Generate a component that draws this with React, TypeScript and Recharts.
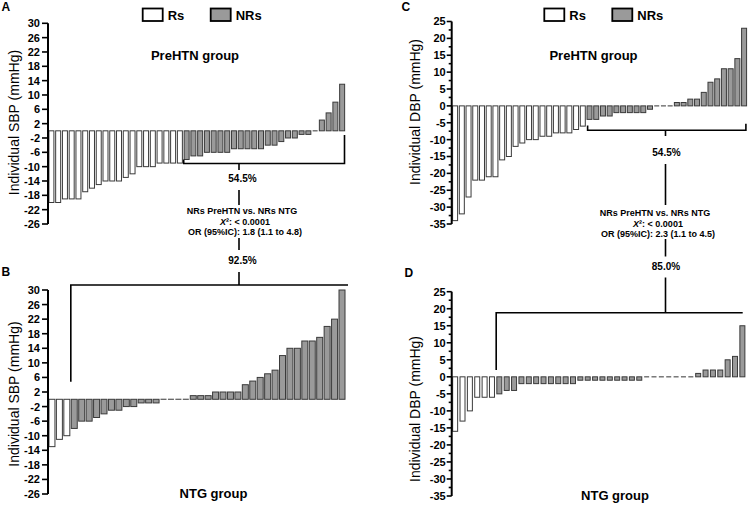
import React from 'react';
import { BarChart, Bar, XAxis, YAxis } from 'recharts';

// ---- Data (mmHg change per individual) ----
const sbpPreRs = [-20, -20, -19, -19, -19, -17, -16, -15, -14, -14, -14, -13, -12, -10, -10, -10, -9, -9, -9, -9];
const sbpPreNRs = [-8, -7, -7, -6, -6, -6, -6, -5, -5, -5, -5, -5, -4, -4, -3, -2, -2, -1, -1, 0, 3, 5, 8, 13];
const sbpNtgRs = [-13, -11, -10];
const sbpNtgNRs = [-8, -6, -6, -5, -4, -3, -3, -2, -2, -1, -1, -1, 0, 0, 0, 0, 1, 1, 1, 2, 2, 2, 2, 4, 5, 6, 7, 8, 12, 14, 14, 16, 16, 17, 20, 22, 30];
const dbpPreRs = [-34, -32, -27, -22, -22, -21, -21, -16, -15, -12, -11, -10, -10, -9, -9, -8, -8, -8, -7, -6];
const dbpPreNRs = [-4, -4, -3, -3, -2, -2, -2, -2, -2, -1, 0, 0, 0, 1, 1, 2, 2, 4, 7, 8, 11, 11, 14, 23];
const dbpNtgRs = [-16, -13, -10, -6, -6, -6];
const dbpNtgNRs = [-5, -4, -4, -2, -2, -2, -2, -2, -2, -2, -2, -1, -1, -1, -1, -1, -1, -1, -1, -1, 0, 0, 0, 0, 0, 0, 0, 1, 2, 2, 2, 5, 6, 15];

const sbpTicks = [30, 26, 22, 18, 14, 10, 6, 2, -2, -6, -10, -14, -18, -22, -26];
const dbpTicks = [25, 22.5, 20, 17.5, 15, 12.5, 10, 7.5, 5, 2.5, 0, -2.5, -5, -7.5, -10, -12.5, -15, -17.5, -20, -22.5, -25, -27.5, -30, -32.5, -35];
const dbpLabelTicks = [25, 20, 15, 10, 5, 0, -5, -10, -15, -20, -25, -30, -35];

const legendLabels = ['Rs', 'NRs'];
const groupTitles = ['PreHTN group', 'NTG group'];
const yLabels = ['Individual SBP (mmHg)', 'Individual DBP (mmHg)'];
const percentA = ['54.5%', '92.5%'];
const percentC = ['54.5%', '85.0%'];
const statsA = ['NRs PreHTN vs. NRs NTG', ': < 0.0001', 'OR (95%IC): 1.8 (1.1 to 4.8)'];
const statsC = ['NRs PreHTN vs. NRs NTG', ': < 0.0001', 'OR (95%IC): 2.3 (1.1 to 4.5)'];

const build = (rs: number[], nrs: number[]) => [
  ...rs.map((v, i) => ({ id: `r${i}`, v, g: 'Rs' })),
  ...nrs.map((v, i) => ({ id: `n${i}`, v, g: 'NRs' })),
];

const FONT = "'Liberation Sans', Arial, Helvetica, sans-serif";
const GRAY = '#9a9a9a';

type Cfg = { left: number; top: number; w: number; h: number; plotL: number; plotR: number; plotT: number; plotB: number; dom: [number, number]; n: number };

const cfgA: Cfg = { left: 0, top: 0, w: 375, h: 240, plotL: 48, plotR: 345.5, plotT: 23.3, plotB: 224, dom: [-26, 30], n: 44 };
const cfgB: Cfg = { left: 0, top: 260, w: 375, h: 245, plotL: 48, plotR: 345.5, plotT: 290, plotB: 494, dom: [-26, 30], n: 40 };
const cfgC: Cfg = { left: 375, top: 0, w: 375, h: 240, plotL: 451.7, plotR: 747.4, plotT: 21.5, plotB: 224, dom: [-35, 25], n: 44 };
const cfgD: Cfg = { left: 375, top: 260, w: 375, h: 245, plotL: 451.7, plotR: 746.3, plotT: 291.7, plotB: 496, dom: [-35, 25], n: 40 };

const ex = (c: Cfg, i: number) => c.plotL + (i * (c.plotR - c.plotL)) / c.n;
const ey = (c: Cfg, v: number) => c.plotT + ((c.dom[1] - v) * (c.plotB - c.plotT)) / (c.dom[1] - c.dom[0]);

const BarShape = (props: any) => {
  const { x, y, width, height } = props;
  const g = props.g ?? (props.payload && props.payload.g);
  if (!height || Math.abs(height) < 0.5) {
    return <line x1={x + 0.5} x2={x + width - 0.5} y1={y} y2={y} stroke="#555" strokeWidth={1.2} />;
  }
  const top = Math.min(y, y + height);
  return (
    <rect x={x + 0.5} y={top} width={Math.max(width - 1, 0.5)} height={Math.abs(height)}
      fill={g === 'Rs' ? '#ffffff' : GRAY} stroke="#3a3a3a" strokeWidth={1} />
  );
};

const makeTick = (labelSet: number[] | null, majorLen: number, minorLen: number, gap: number) => (p: any) => {
  const { x, y, payload } = p;
  const axisX = x + 8;
  const v = payload.value;
  const isMajor = labelSet ? labelSet.includes(v) : true;
  const len = isMajor ? majorLen : minorLen;
  return (
    <g>
      <line x1={axisX - len} x2={axisX} y1={y} y2={y} stroke="#000" strokeWidth={1.6} />
      {isMajor && (
        <text x={axisX - majorLen - gap} y={y} dy="0.36em" textAnchor="end" fontFamily={FONT} fontSize={11} fontWeight="bold" fill="#000">
          {v}
        </text>
      )}
    </g>
  );
};

function Panel({ cfg, data, ticks, labelSet }: { cfg: Cfg; data: any[]; ticks: number[]; labelSet: number[] | null }) {
  const margin = { top: cfg.plotT - cfg.top, bottom: cfg.top + cfg.h - cfg.plotB, right: cfg.left + cfg.w - cfg.plotR, left: 0 };
  return (
    <div style={{ position: 'absolute', left: cfg.left, top: cfg.top }}>
      <BarChart width={cfg.w} height={cfg.h} data={data} margin={margin} barCategoryGap="6%">
        <XAxis dataKey="id" hide />
        <YAxis
          type="number"
          width={cfg.plotL - cfg.left}
          domain={cfg.dom}
          ticks={ticks}
          interval={0}
          allowDecimals
          tickLine={false}
          tickSize={6}
          tickMargin={2}
          axisLine={{ stroke: '#000', strokeWidth: 2 }}
          tick={labelSet ? makeTick(labelSet, 5, 3, 1) : makeTick(null, 6, 6, 2)}
        />
        <Bar dataKey="v" isAnimationActive={false} shape={BarShape} />
      </BarChart>
    </div>
  );
}

const Legend = ({ x }: { x: number }) => (
  <g>
    <rect x={x} y={8.5} width={20} height={12.5} fill="#fff" stroke="#000" strokeWidth={1.8} />
    <text x={x + 25} y={19.5} fontFamily={FONT} fontSize={13} fontWeight="bold">{legendLabels[0]}</text>
    <rect x={x + 68} y={8.5} width={20} height={12.5} fill={GRAY} stroke="#000" strokeWidth={1.8} />
    <text x={x + 93} y={19.5} fontFamily={FONT} fontSize={13} fontWeight="bold">{legendLabels[1]}</text>
  </g>
);

const Stats = ({ cx, y0, lines }: { cx: number; y0: number; lines: string[] }) => (
  <g fontFamily={FONT} fontSize={9} fontWeight="bold" textAnchor="middle">
    <text x={cx} y={y0}>{lines[0]}</text>
    <text x={cx + 3} y={y0 + 10.5}><tspan fontStyle="italic">X</tspan><tspan>²</tspan><tspan>{lines[1]}</tspan></text>
    <text x={cx + 3} y={y0 + 21}>{lines[2]}</text>
  </g>
);

function Overlay() {
  const ln = { stroke: '#000', strokeWidth: 1.6, fill: 'none' } as any;
  const ax = 239;
  const cx = 665.5;
  // bracket geometry derived from the panels' scales
  const aL = ex(cfgA, 20) + 0.5;
  const aR = ex(cfgA, 44) - 1;
  const aY = ey(cfgA, -9.1);
  const bL = ex(cfgB, 3) + 0.5;
  const cL = ex(cfgC, 20) + 1.5;
  const cR = ex(cfgC, 44) - 1.5;
  const cY = ey(cfgC, -7.2);
  const dL = ex(cfgD, 6) + 0.3;
  return (
    <svg width={750} height={505} style={{ position: 'absolute', left: 0, top: 0, pointerEvents: 'none' }}>
      {/* panel letters */}
      <g fontFamily={FONT} fontSize={12} fontWeight="bold">
        <text x={1.5} y={11}>A</text>
        <text x={1.5} y={275.5}>B</text>
        <text x={401.5} y={10.5}>C</text>
        <text x={404.5} y={277}>D</text>
      </g>
      <Legend x={142.7} />
      <Legend x={544.3} />
      {/* group titles */}
      <g fontFamily={FONT} fontSize={13} fontWeight="bold" textAnchor="middle">
        <text x={195} y={60}>{groupTitles[0]}</text>
        <text x={593.5} y={60}>{groupTitles[0]}</text>
        <text x={213.5} y={497.5}>{groupTitles[1]}</text>
        <text x={615} y={499.5}>{groupTitles[1]}</text>
      </g>
      {/* y labels */}
      <g fontFamily={FONT} fontSize={14} textAnchor="middle">
        <text transform="translate(18.5,122.5) rotate(-90)">{yLabels[0]}</text>
        <text transform="translate(18.5,394) rotate(-90)">{yLabels[0]}</text>
        <text transform="translate(419.5,112) rotate(-90)">{yLabels[1]}</text>
        <text transform="translate(419.5,409) rotate(-90)">{yLabels[1]}</text>
      </g>
      {/* SBP brackets */}
      <path d={`M${aL},${ey(cfgA, -8)} L${aL},${aY} L${aR},${aY} L${aR},${ey(cfgA, -1.2)}`} {...ln} />
      <line x1={ax} x2={ax} y1={aY} y2={170} {...ln} />
      <text x={242.5} y={181.5} fontFamily={FONT} fontSize={10} fontWeight="bold" textAnchor="middle">{percentA[0]}</text>
      <line x1={ax} x2={ax} y1={190} y2={205} {...ln} />
      <Stats cx={242} y0={214} lines={statsA} />
      <line x1={ax} x2={ax} y1={238} y2={250} {...ln} />
      <text x={242.5} y={264} fontFamily={FONT} fontSize={10} fontWeight="bold" textAnchor="middle">{percentA[1]}</text>
      <line x1={ax} x2={ax} y1={272} y2={285} {...ln} />
      <path d={`M${bL},${ey(cfgB, 4.8)} L${bL},285 L348,285`} {...ln} />
      {/* DBP brackets */}
      <path d={`M${cL},${ey(cfgC, -5.8)} L${cL},${cY} L${cR},${cY} L${cR},${ey(cfgC, -5.3)}`} {...ln} />
      <line x1={cx} x2={cx} y1={cY} y2={136} {...ln} />
      <text x={666.5} y={156} fontFamily={FONT} fontSize={10} fontWeight="bold" textAnchor="middle">{percentC[0]}</text>
      <line x1={cx} x2={cx} y1={164} y2={205} {...ln} />
      <Stats cx={655} y0={216} lines={statsC} />
      <line x1={cx} x2={cx} y1={239} y2={256.5} {...ln} />
      <text x={666} y={269.5} fontFamily={FONT} fontSize={10} fontWeight="bold" textAnchor="middle">{percentC[1]}</text>
      <line x1={cx} x2={cx} y1={277.5} y2={312.7} {...ln} />
      <path d={`M${dL},${ey(cfgD, 2)} L${dL},312.7 L742.7,312.7`} {...ln} />
    </svg>
  );
}

export default function App() {
  return (
    <div style={{ position: 'absolute', left: 0, top: 0, width: 750, height: 505, background: '#fff', overflow: 'hidden' }}>
      <Panel cfg={cfgA} data={build(sbpPreRs, sbpPreNRs)} ticks={sbpTicks} labelSet={null} />
      <Panel cfg={cfgB} data={build(sbpNtgRs, sbpNtgNRs)} ticks={sbpTicks} labelSet={null} />
      <Panel cfg={cfgC} data={build(dbpPreRs, dbpPreNRs)} ticks={dbpTicks} labelSet={dbpLabelTicks} />
      <Panel cfg={cfgD} data={build(dbpNtgRs, dbpNtgNRs)} ticks={dbpTicks} labelSet={dbpLabelTicks} />
      <Overlay />
    </div>
  );
}
